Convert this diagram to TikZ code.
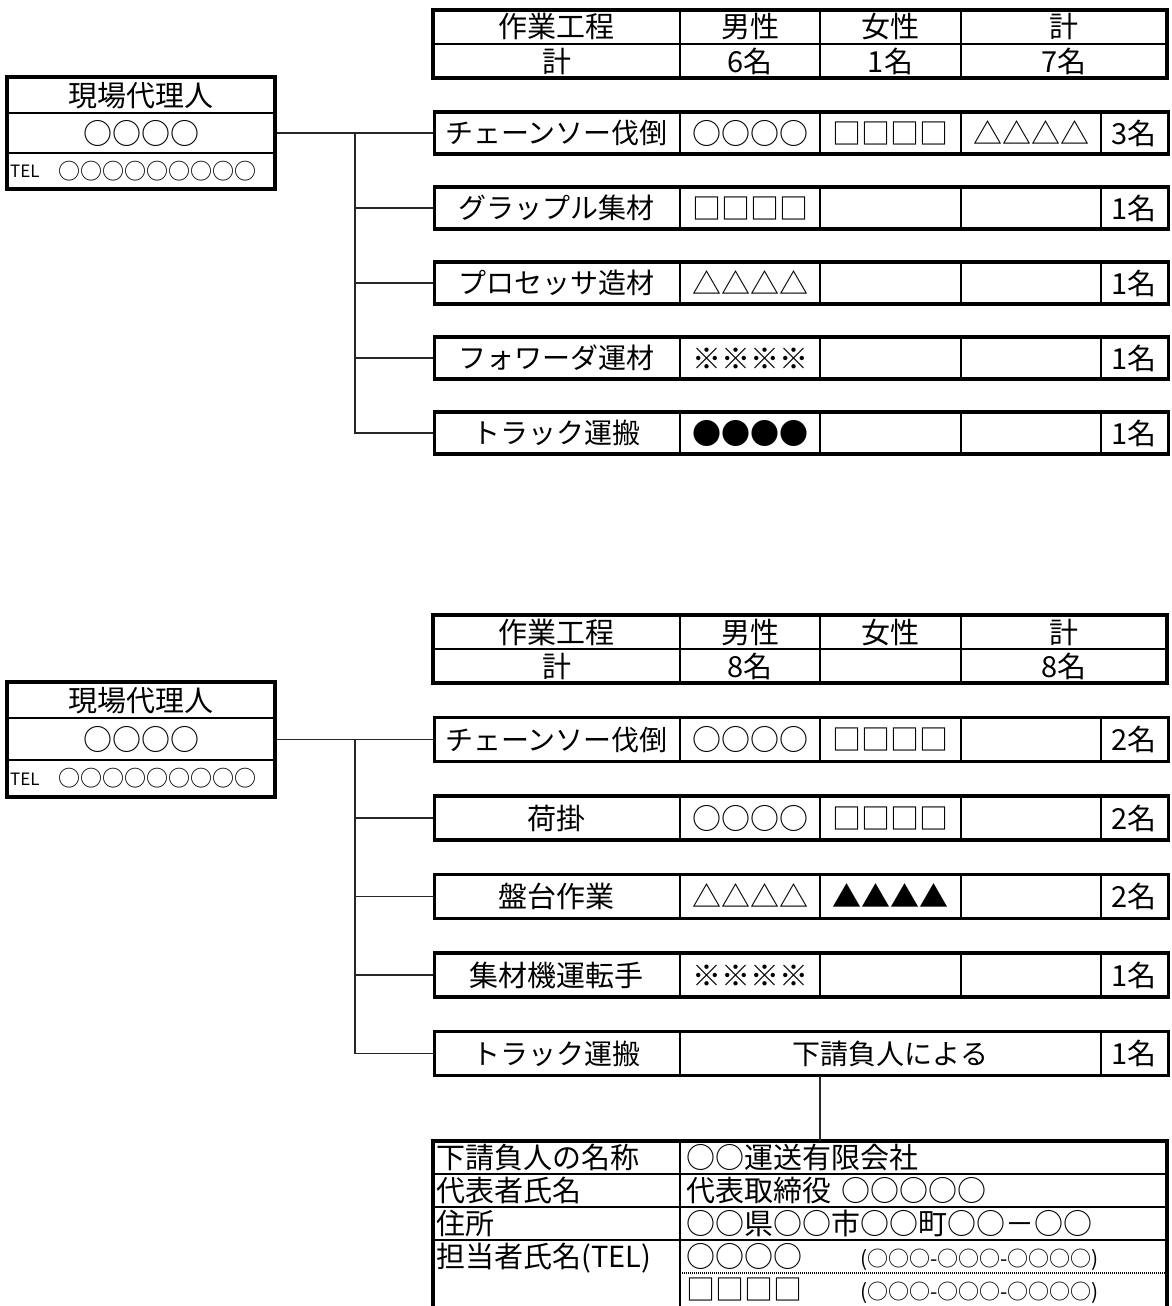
\documentclass[tikz,border=0pt]{standalone}
\usepackage{fontspec}
\newfontfamily\jp{Noto Sans CJK JP}
\begin{document}
\tikzset{
  outer/.style={line width=3.4pt},
  inner/.style={line width=1.1pt},
  conn/.style={line width=1.4pt, draw=black!85},
  dotln/.style={line width=1.6pt, dash pattern=on 1pt off 1pt},
  t29/.style={font=\jp\fontsize{29pt}{29pt}\selectfont, inner sep=0pt, text height=25.5pt, text depth=3.5pt},
  t28/.style={font=\jp\fontsize{28pt}{28pt}\selectfont, inner sep=0pt, text height=24.6pt, text depth=3.4pt},
  t22/.style={font=\jp\fontsize{22pt}{22pt}\selectfont, inner sep=0pt, text height=19.4pt, text depth=2.6pt},
  t21/.style={font=\jp\fontsize{21pt}{21pt}\selectfont, inner sep=0pt, text height=18.5pt, text depth=2.5pt},
  t17/.style={font=\jp\fontsize{17pt}{17pt}\selectfont, inner sep=0pt, text height=15pt, text depth=2pt},
  rowA/.style={draw, outer, minimum width=734pt, minimum height=42pt, inner sep=0pt, anchor=west},
  rowB/.style={rowA, minimum height=44pt},
  boxL/.style={draw, outer, minimum width=268pt, inner sep=0pt},
}
\begin{tikzpicture}[x=1pt,y=-1pt]
\useasboundingbox (0,0) rectangle (1171,1306);
\fill[white] (0,0) rectangle (1171,1306);

%% ================= Section 1 =================
% header table
\draw[outer] (433,10) rectangle (1167,78);
\draw[inner] (433,44) -- (1167,44);
\foreach \x in {680,820,961} \draw[inner] (\x,10) -- (\x,78);
\node[t29] (h1a) at (556.5,27) {作業工程};
\node[t29] (h1b) at (750,27) {男性};
\node[t29] (h1c) at (890.5,27) {女性};
\node[t29] (h1d) at (1064,27) {計};
\node[t29] (h1e) at (556.5,61) {計};
\node[t29] (h1f) at (750,61) {6名};
\node[t29] (h1g) at (890.5,61) {1名};
\node[t29] (h1h) at (1064,61) {7名};

% left box
\node[boxL, minimum height=112pt] (lb1) at (141,133) {};
\draw[inner] (7,113) -- (275,113);
\draw[inner] (7,153) -- (275,153);
\node[t29] (lb1a) at (141,95) {現場代理人};
\node[t29] (lb1b) at (141,133) {○○○○};
\node[t17, anchor=west] (lb1c) at (10,171) {TEL};
\node[t22, anchor=west] (lb1d) at (58,171) {○○○○○○○○○};

% rows
\foreach \n/\y in {1/133,2/208,3/283,4/358,5/433}{
  \node[rowA] (r1\n) at (433,\y) {};
  \foreach \x in {680,820,961,1101} \draw[inner] (\x,\y-21) -- (\x,\y+21);
}
\node[t28] (l11) at (556.5,133) {チェーンソー伐倒};
\node[t29] (a11) at (750,133) {○○○○};
\node[t29] (b11) at (890.5,133) {□□□□};
\node[t29] (c11) at (1031,133) {△△△△};
\node[t29] (d11) at (1134,133) {3名};

\node[t28] (l12) at (556.5,208) {グラップル集材};
\node[t29] (a12) at (750,208) {□□□□};
\node[t29] (d12) at (1134,208) {1名};

\node[t28] (l13) at (556.5,283) {プロセッサ造材};
\node[t29] (a13) at (750,283) {△△△△};
\node[t29] (d13) at (1134,283) {1名};

\node[t28] (l14) at (556.5,358) {フォワーダ運材};
\node[t29] (a14) at (750,358) {※※※※};
\node[t29] (d14) at (1134,358) {1名};

\node[t28] (l15) at (556.5,433) {トラック運搬};
\node[t29] (a15) at (750,433) {●●●●};
\node[t29] (d15) at (1134,433) {1名};

% connectors
\coordinate (j1) at (355,133);
\draw[conn] (lb1.east) -- (r11.west);
\draw[conn] (j1) |- (r15.west);
\foreach \n in {2,3,4} \draw[conn] (j1 |- r1\n.west) -- (r1\n.west);

%% ================= Section 2 =================
\draw[outer] (433,615) rectangle (1167,683);
\draw[inner] (433,649) -- (1167,649);
\foreach \x in {680,820,961} \draw[inner] (\x,615) -- (\x,683);
\node[t29] (h2a) at (556.5,632) {作業工程};
\node[t29] (h2b) at (750,632) {男性};
\node[t29] (h2c) at (890.5,632) {女性};
\node[t29] (h2d) at (1064,632) {計};
\node[t29] (h2e) at (556.5,666) {計};
\node[t29] (h2f) at (750,666) {8名};
\node[t29] (h2h) at (1064,666) {8名};

\node[boxL, minimum height=115pt] (lb2) at (141,739.5) {};
\draw[inner] (7,718) -- (275,718);
\draw[inner] (7,760) -- (275,760);
\node[t29] (lb2a) at (141,700) {現場代理人};
\node[t29] (lb2b) at (141,739) {○○○○};
\node[t17, anchor=west] (lb2c) at (10,778.5) {TEL};
\node[t22, anchor=west] (lb2d) at (58,778.5) {○○○○○○○○○};

\foreach \n/\y in {1/739.5,2/818,3/896.5,4/975}{
  \node[rowB] (r2\n) at (433,\y) {};
  \foreach \x in {680,820,961,1101} \draw[inner] (\x,\y-22) -- (\x,\y+22);
}
\node[rowB] (r25) at (433,1053.5) {};
\foreach \x in {680,1101} \draw[inner] (\x,1031.5) -- (\x,1075.5);

\node[t28] (l21) at (556.5,739.5) {チェーンソー伐倒};
\node[t29] (a21) at (750,739.5) {○○○○};
\node[t29] (b21) at (890.5,739.5) {□□□□};
\node[t29] (d21) at (1134,739.5) {2名};

\node[t29] (l22) at (556.5,818) {荷掛};
\node[t29] (a22) at (750,818) {○○○○};
\node[t29] (b22) at (890.5,818) {□□□□};
\node[t29] (d22) at (1134,818) {2名};

\node[t29] (l23) at (556.5,896.5) {盤台作業};
\node[t29] (a23) at (750,896.5) {△△△△};
\node[t29] (b23) at (890.5,896.5) {▲▲▲▲};
\node[t29] (d23) at (1134,896.5) {2名};

\node[t29] (l24) at (556.5,975) {集材機運転手};
\node[t29] (a24) at (750,975) {※※※※};
\node[t29] (d24) at (1134,975) {1名};

\node[t28] (l25) at (556.5,1053.5) {トラック運搬};
\node[t28] (a25) at (890.5,1053.5) {下請負人による};
\node[t29] (d25) at (1134,1053.5) {1名};

\coordinate (j2) at (355,739.5);
\draw[conn] (lb2.east) -- (r21.west);
\draw[conn] (j2) |- (r25.west);
\foreach \n in {2,3,4} \draw[conn] (j2 |- r2\n.west) -- (r2\n.west);

% subcontractor table
\draw[outer] (433,1312) -- (433,1141) -- (1167,1141) -- (1167,1312);
\foreach \y in {1174,1207,1240} \draw[inner] (433,\y) -- (1167,\y);
\draw[inner] (680,1141) -- (680,1312);
\draw[dotln] (680,1273) -- (1167,1273);
\coordinate (c2) at (820,1075.5);
\coordinate (subtop) at (820,1141);
\draw[conn, line width=1.2pt] (c2) -- (subtop);

\node[t29, anchor=west] (s1) at (436,1157.5) {下請負人の名称};
\node[t29, anchor=west] (s2) at (436,1190.5) {代表者氏名};
\node[t29, anchor=west] (s3) at (436,1223.5) {住所};
\node[t29, anchor=west] (s4) at (436,1256.5) {担当者氏名(TEL)};
\node[t29, anchor=west] (v1) at (686,1157.5) {○○運送有限会社};
\node[t29, anchor=west] (v2) at (686,1190.5) {代表取締役\hspace{10pt}○○○○○};
\node[t29, anchor=west] (v3) at (686,1223.5) {○○県○○市○○町○○－○○};
\node[t29, anchor=west] (v4) at (686,1256.5) {○○○○};
\node[t21, anchor=west] (p4) at (860,1258) {(○○○-○○○-○○○○)};
\node[t29, anchor=west] (v5) at (686,1289.5) {□□□□};
\node[t21, anchor=west] (p5) at (860,1291) {(○○○-○○○-○○○○)};
\end{tikzpicture}
\end{document}
